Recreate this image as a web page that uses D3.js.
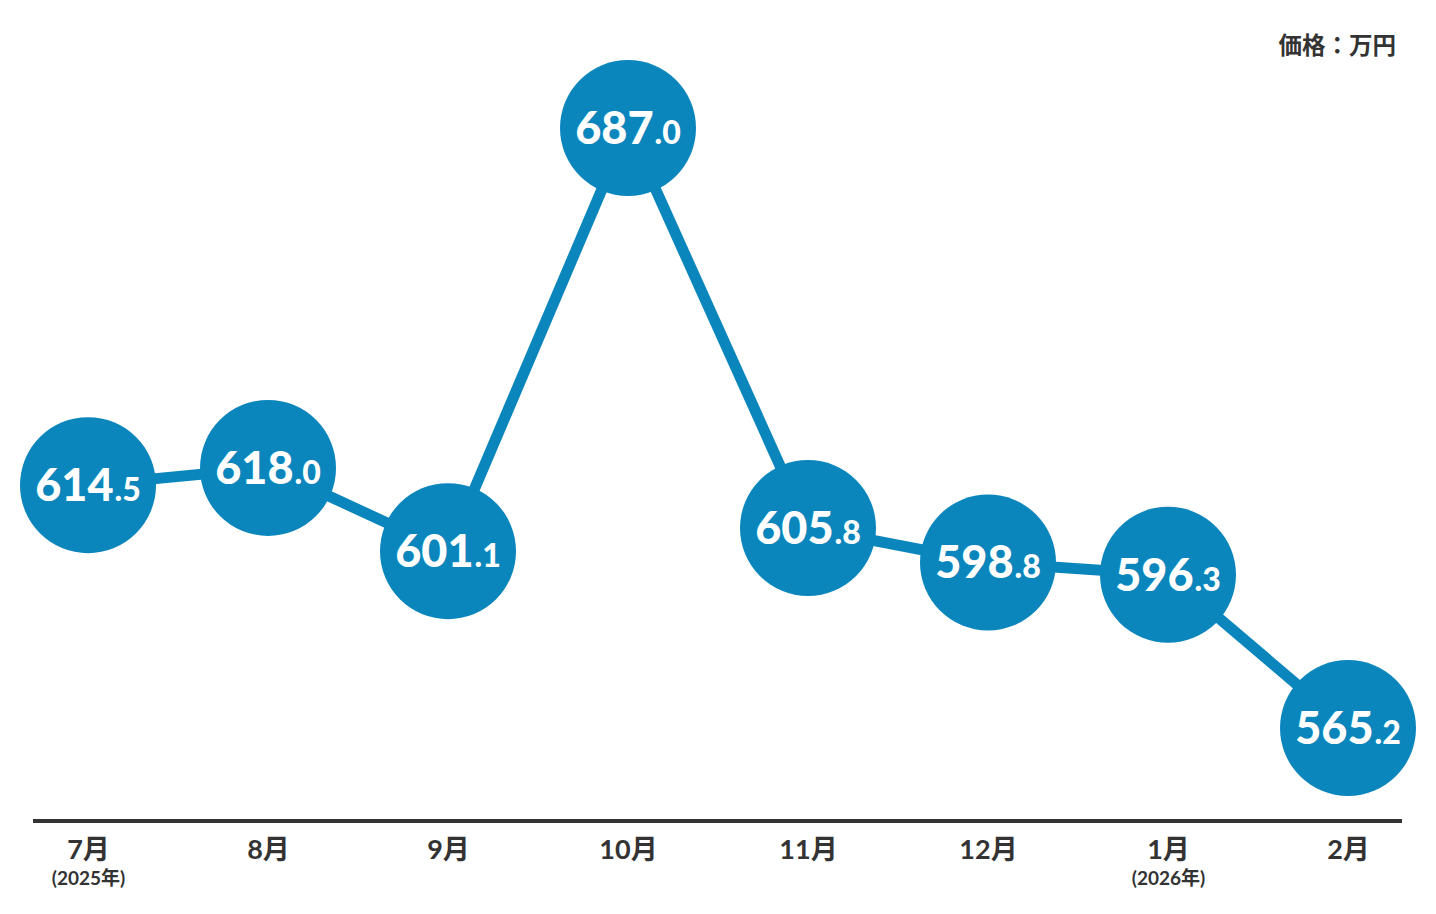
<!DOCTYPE html>
<html><head><meta charset="utf-8">
<script src="https://cdn.jsdelivr.net/npm/d3@7"></script>
<style>body{margin:0;background:#fff;}svg{display:block;}</style>
</head><body>
<script>
const months = ["7月","8月","9月","10月","11月","12月","1月","2月"];
const yearNotes = ["(2025年)","","","","","","(2026年)",""];
const prices = [614.5, 618.0, 601.1, 687.0, 605.8, 598.8, 596.3, 565.2];
const unitLabel = "価格：万円";

const W = 1436, H = 914;
const svg = d3.select("body").append("svg").attr("width", W).attr("height", H);
const blue = "#0a86bd";
const latinCJK = "Lato, 'Noto Sans CJK JP', sans-serif";

const x = d3.scalePoint().domain(months).range([88, 1348]);
const y = d3.scaleLinear().domain([565.2, 687.0]).range([728, 128]);

// axis baseline
const axis = d3.axisBottom(x).tickSize(0).tickPadding(0);
const gAxis = svg.append("g").attr("transform", "translate(0,821)").call(axis);
gAxis.select(".domain").remove();
gAxis.append("line").attr("x1", 33).attr("x2", 1402).attr("y1", 0).attr("y2", 0)
  .attr("stroke", "#333").attr("stroke-width", 4);
gAxis.selectAll(".tick text").remove();
gAxis.selectAll(".tick").each(function(d, i) {
  const g = d3.select(this);
  g.append("text").attr("y", 38).attr("text-anchor", "middle")
    .attr("font-family", latinCJK).attr("font-weight", 700)
    .attr("font-size", 27).attr("fill", "#333").text(d);
  if (yearNotes[i]) {
    g.append("text").attr("y", 63.5).attr("text-anchor", "middle")
      .attr("font-family", latinCJK).attr("font-weight", 700)
      .attr("font-size", 19).attr("fill", "#333").text(yearNotes[i]);
  }
});

// unit label
svg.append("text").attr("x", 1396).attr("y", 54).attr("text-anchor", "end")
  .attr("font-family", "'Noto Sans CJK JP', sans-serif").attr("font-weight", 700)
  .attr("font-size", 23.5).attr("fill", "#333").text(unitLabel);

const data = months.map((m, i) => ({m, v: prices[i]}));

// line
svg.append("path").datum(data)
  .attr("d", d3.line().x(d => x(d.m)).y(d => y(d.v)))
  .attr("fill", "none").attr("stroke", blue).attr("stroke-width", 11);

// circles
svg.selectAll("circle.pt").data(data).join("circle").attr("class", "pt")
  .attr("cx", d => x(d.m)).attr("cy", d => y(d.v)).attr("r", 68).attr("fill", blue);

// labels
const lab = svg.selectAll("text.val").data(data).join("text").attr("class", "val")
  .attr("x", d => x(d.m)).attr("y", d => y(d.v) + 16)
  .attr("text-anchor", "middle")
  .attr("font-family", "Lato, sans-serif").attr("font-weight", 900)
  .attr("fill", "#fff");
lab.append("tspan").attr("font-size", 45).text(d => d.v.toFixed(1).split(".")[0]);
lab.append("tspan").attr("font-size", 32).attr("dx", 1).text(d => "." + d.v.toFixed(1).split(".")[1]);
</script>
</body></html>
